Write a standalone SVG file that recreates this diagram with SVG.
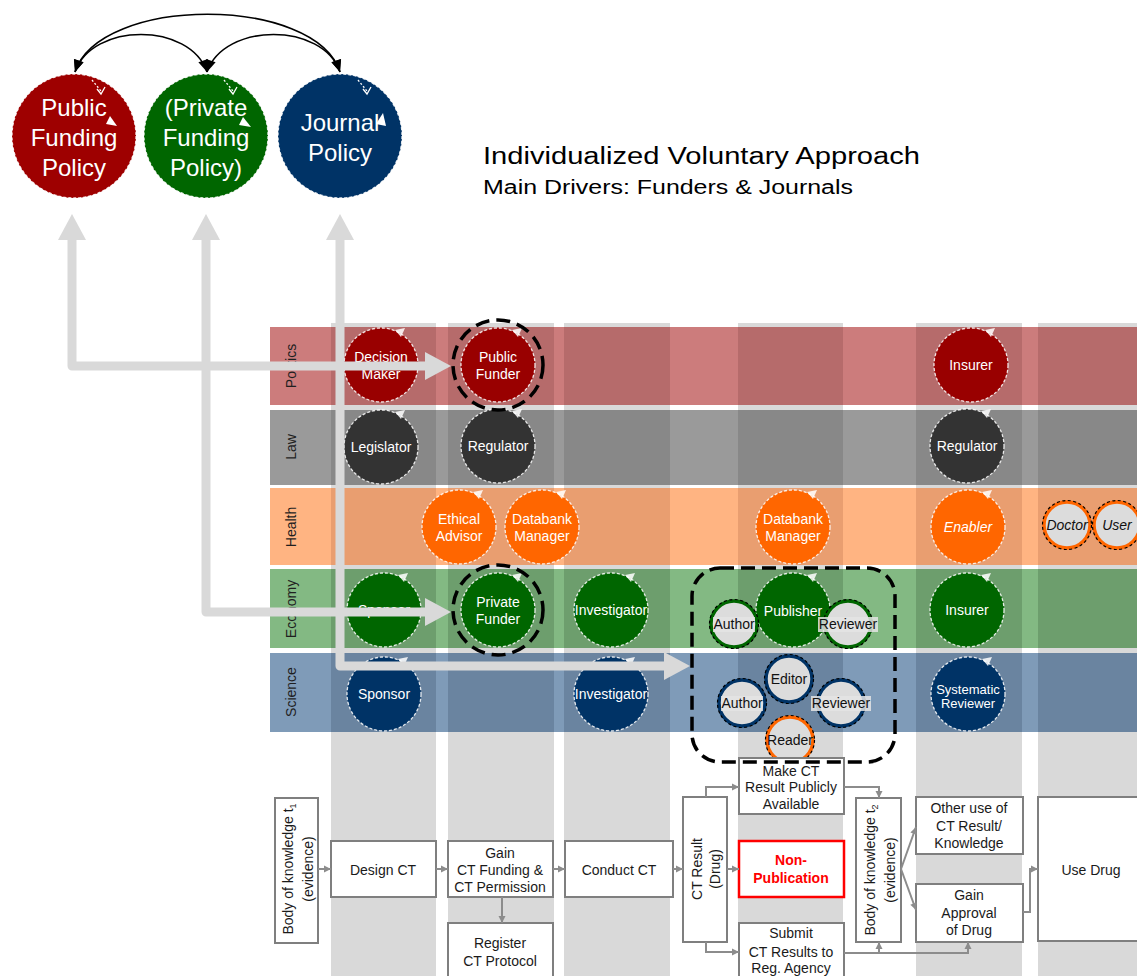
<svg xmlns="http://www.w3.org/2000/svg" width="1137" height="976" viewBox="0 0 1137 976">
<style>
text{font-family:"Liberation Sans",Arial,sans-serif}
.rl{font-size:14px;fill:#1f1f1f;text-anchor:middle}
.a{font-size:14px;fill:#fff;text-anchor:middle}
.s{font-size:14px;fill:#111;text-anchor:middle}
.o{stroke:#fff;stroke-width:1.3;stroke-dasharray:3 2;fill:none;opacity:.85}
.lp{fill:#fff;opacity:.85}
.ring{fill:#dcdcdc;stroke-width:3.5}
.rd{fill:none;stroke:#000;stroke-width:1.2;stroke-dasharray:3 2.5}
.tb{fill:#e4e4e4;opacity:.85}
.bx{fill:#fff;stroke:#7f7f7f;stroke-width:2}
.bt{font-size:14px;fill:#1a1a1a;text-anchor:middle}
.c{fill:none;stroke:#8c8c8c;stroke-width:2;marker-end:url(#sa)}
.g{fill:none;stroke:#d9d9d9;stroke-width:9;stroke-linejoin:round;marker-start:url(#gh);marker-end:url(#gh)}
.k{fill:none;stroke:#000;stroke-width:1.6;marker-start:url(#kh);marker-end:url(#kh)}
.hd{fill:none;stroke:#000;stroke-width:3.5;stroke-dasharray:14 7}
.big{font-size:24px;fill:#fff;text-anchor:middle}
.col{fill:#d9d9d9}
</style>
<defs>
<marker id="gh" markerUnits="userSpaceOnUse" markerWidth="28" markerHeight="28" refX="0" refY="14" orient="auto-start-reverse" overflow="visible"><path d="M0,0 L26,14 L0,28 Z" fill="#d9d9d9"/></marker>
<marker id="kh" markerUnits="userSpaceOnUse" markerWidth="12" markerHeight="10" refX="12" refY="5" orient="auto-start-reverse" overflow="visible"><path d="M0,0 L12,5 L0,10 Z" fill="#000"/></marker>
<marker id="sa" markerUnits="userSpaceOnUse" markerWidth="7" markerHeight="7" refX="7" refY="3.5" orient="auto" overflow="visible"><path d="M0,0 L7,3.5 L0,7 Z" fill="#8c8c8c"/></marker>
<clipPath id="cols">
<rect x="331" y="300" width="105" height="700"/>
<rect x="448" y="300" width="106" height="700"/>
<rect x="564" y="300" width="106" height="700"/>
<rect x="738" y="300" width="105" height="700"/>
<rect x="916" y="300" width="106" height="700"/>
<rect x="1038" y="300" width="99" height="700"/>
</clipPath>
</defs>

<g id="columns">
<rect class="col" x="331" y="323" width="105" height="653"/>
<rect class="col" x="448" y="323" width="106" height="653"/>
<rect class="col" x="564" y="323" width="106" height="653"/>
<rect class="col" x="738" y="323" width="105" height="653"/>
<rect class="col" x="916" y="323" width="106" height="653"/>
<rect class="col" x="1038" y="323" width="99" height="653"/>
</g>

<g id="rows">
<rect x="270" y="327" width="867" height="78" fill="#cc7c7c"/>
<rect x="270" y="410" width="867" height="75" fill="#9a9a9a"/>
<rect x="270" y="488" width="867" height="77" fill="#ffb482"/>
<rect x="270" y="569" width="867" height="79" fill="#83b983"/>
<rect x="270" y="653" width="867" height="79" fill="#7f9bb8"/>
<g clip-path="url(#cols)">
<rect x="270" y="327" width="867" height="78" fill="#b66b6b"/>
<rect x="270" y="410" width="867" height="75" fill="#888888"/>
<rect x="270" y="488" width="867" height="77" fill="#e99e70"/>
<rect x="270" y="569" width="867" height="79" fill="#6d9e6d"/>
<rect x="270" y="653" width="867" height="79" fill="#6a84a0"/>
</g>
<text class="rl" transform="translate(296,366) rotate(-90)">Politics</text>
<text class="rl" transform="translate(296,447) rotate(-90)">Law</text>
<text class="rl" transform="translate(296,527) rotate(-90)">Health</text>
<text class="rl" transform="translate(296,609) rotate(-90)">Economy</text>
<text class="rl" transform="translate(296,692) rotate(-90)">Science</text>
</g>

<g id="title">
<text x="483" y="164" font-size="23" fill="#000" textLength="437" lengthAdjust="spacingAndGlyphs">Individualized Voluntary Approach</text>
<text x="483" y="194" font-size="20" fill="#000" textLength="370" lengthAdjust="spacingAndGlyphs">Main Drivers: Funders &amp; Journals</text>
</g>

<!-- Politics -->
<g id="decision-maker"><circle cx="381" cy="365" r="37" fill="#990000"/><circle cx="381" cy="365" r="37" class="o"/><path class="lp" d="M395,330 L405,328 L401,337 Z"/><text class="a" x="381" y="362">Decision</text><text class="a" x="381" y="379">Maker</text></g>
<g id="public-funder"><circle cx="498" cy="365" r="37" fill="#990000"/><circle cx="498" cy="365" r="37" class="o"/><path class="lp" d="M512,330 L522,328 L518,337 Z"/><text class="a" x="498" y="362">Public</text><text class="a" x="498" y="379">Funder</text></g>
<g id="insurer-politics"><circle cx="971" cy="365" r="37" fill="#990000"/><circle cx="971" cy="365" r="37" class="o"/><path class="lp" d="M985,330 L995,328 L991,337 Z"/><text class="a" x="971" y="370">Insurer</text></g>
<!-- Law -->
<g id="legislator"><circle cx="381" cy="447" r="37" fill="#333333"/><circle cx="381" cy="447" r="37" class="o"/><path class="lp" d="M395,412 L405,410 L401,419 Z"/><text class="a" x="381" y="452">Legislator</text></g>
<g id="regulator-1"><circle cx="498" cy="446" r="37" fill="#333333"/><circle cx="498" cy="446" r="37" class="o"/><path class="lp" d="M512,411 L522,409 L518,418 Z"/><text class="a" x="498" y="451">Regulator</text></g>
<g id="regulator-2"><circle cx="967" cy="446" r="37" fill="#333333"/><circle cx="967" cy="446" r="37" class="o"/><path class="lp" d="M981,411 L991,409 L987,418 Z"/><text class="a" x="967" y="451">Regulator</text></g>
<!-- Health -->
<g id="ethical-advisor"><circle cx="459" cy="527" r="37" fill="#ff6600"/><circle cx="459" cy="527" r="37" class="o"/><path class="lp" d="M473,492 L483,490 L479,499 Z"/><text class="a" x="459" y="524">Ethical</text><text class="a" x="459" y="541">Advisor</text></g>
<g id="databank-manager-1"><circle cx="542" cy="527" r="37" fill="#ff6600"/><circle cx="542" cy="527" r="37" class="o"/><path class="lp" d="M556,492 L566,490 L562,499 Z"/><text class="a" x="542" y="524">Databank</text><text class="a" x="542" y="541">Manager</text></g>
<g id="databank-manager-2"><circle cx="793" cy="527" r="37" fill="#ff6600"/><circle cx="793" cy="527" r="37" class="o"/><path class="lp" d="M807,492 L817,490 L813,499 Z"/><text class="a" x="793" y="524">Databank</text><text class="a" x="793" y="541">Manager</text></g>
<g id="enabler"><circle cx="968" cy="527" r="37" fill="#ff6600"/><circle cx="968" cy="527" r="37" class="o"/><path class="lp" d="M982,492 L992,490 L988,499 Z"/><text class="a" x="968" y="532" font-style="italic">Enabler</text></g>
<g id="doctor"><circle cx="1067" cy="525" r="23" class="ring" stroke="#ff6600"/><circle cx="1067" cy="525" r="24.5" class="rd"/><text class="s" x="1067" y="530" font-style="italic">Doctor</text></g>
<g id="user"><circle cx="1117" cy="525" r="23" class="ring" stroke="#ff6600"/><circle cx="1117" cy="525" r="24.5" class="rd"/><text class="s" x="1117" y="530" font-style="italic">User</text></g>
<!-- Economy -->
<g id="sponsor-economy"><circle cx="384" cy="610" r="37" fill="#006600"/><circle cx="384" cy="610" r="37" class="o"/><path class="lp" d="M398,575 L408,573 L404,582 Z"/><text class="a" x="384" y="615">Sponsor</text></g>
<g id="private-funder"><circle cx="498" cy="610" r="37" fill="#006600"/><circle cx="498" cy="610" r="37" class="o"/><path class="lp" d="M512,575 L522,573 L518,582 Z"/><text class="a" x="498" y="607">Private</text><text class="a" x="498" y="624">Funder</text></g>
<g id="investigator-economy"><circle cx="611" cy="610" r="37" fill="#006600"/><circle cx="611" cy="610" r="37" class="o"/><path class="lp" d="M625,575 L635,573 L631,582 Z"/><text class="a" x="611" y="615">Investigator</text></g>
<g id="publisher"><circle cx="793" cy="610" r="37" fill="#006600"/><circle cx="793" cy="610" r="37" class="o"/><path class="lp" d="M807,575 L817,573 L813,582 Z"/><text class="a" x="793" y="616">Publisher</text></g>
<g id="author-economy"><circle cx="734" cy="624" r="23" class="ring" stroke="#006600"/><circle cx="734" cy="624" r="24.5" class="rd"/><rect class="tb" x="713" y="617" width="42" height="15"/><text class="s" x="734" y="629">Author</text></g>
<g id="reviewer-economy"><circle cx="848" cy="624" r="23" class="ring" stroke="#006600"/><circle cx="848" cy="624" r="24.5" class="rd"/><rect class="tb" x="818" y="617" width="60" height="15"/><text class="s" x="848" y="629">Reviewer</text></g>
<g id="insurer-economy"><circle cx="967" cy="610" r="37" fill="#006600"/><circle cx="967" cy="610" r="37" class="o"/><path class="lp" d="M981,575 L991,573 L987,582 Z"/><text class="a" x="967" y="615">Insurer</text></g>
<!-- Science -->
<g id="sponsor-science"><circle cx="384" cy="694" r="37" fill="#003366"/><circle cx="384" cy="694" r="37" class="o"/><path class="lp" d="M398,659 L408,657 L404,666 Z"/><text class="a" x="384" y="699">Sponsor</text></g>
<g id="investigator-science"><circle cx="611" cy="694" r="37" fill="#003366"/><circle cx="611" cy="694" r="37" class="o"/><path class="lp" d="M625,659 L635,657 L631,666 Z"/><text class="a" x="611" y="699">Investigator</text></g>
<g id="editor"><circle cx="789" cy="679" r="23" class="ring" stroke="#003366"/><circle cx="789" cy="679" r="24.5" class="rd"/><text class="s" x="789" y="684">Editor</text></g>
<g id="author-science"><circle cx="742" cy="703" r="23" class="ring" stroke="#003366"/><circle cx="742" cy="703" r="24.5" class="rd"/><rect class="tb" x="721" y="696" width="42" height="15"/><text class="s" x="742" y="708">Author</text></g>
<g id="reviewer-science"><circle cx="841" cy="703" r="23" class="ring" stroke="#003366"/><circle cx="841" cy="703" r="24.5" class="rd"/><rect class="tb" x="811" y="696" width="60" height="15"/><text class="s" x="841" y="708">Reviewer</text></g>
<g id="reader"><circle cx="790" cy="740" r="23" class="ring" stroke="#ff6600"/><circle cx="790" cy="740" r="24.5" class="rd"/><text class="s" x="790" y="745">Reader</text></g>
<g id="systematic-reviewer"><circle cx="968" cy="694" r="37" fill="#003366"/><circle cx="968" cy="694" r="37" class="o"/><path class="lp" d="M982,659 L992,657 L988,666 Z"/><text class="a" x="968" y="694" font-size="13" style="font-size:13px">Systematic</text><text class="a" x="968" y="708" style="font-size:13px">Reviewer</text></g>

<!-- process boxes -->
<g id="body-knowledge-1"><rect class="bx" x="275" y="798" width="43" height="145"/><text class="bt" transform="translate(293,869) rotate(-90)">Body of knowledge t<tspan font-size="9" dy="3">1</tspan></text><text class="bt" transform="translate(313,869) rotate(-90)">(evidence)</text></g>
<g id="design-ct"><rect class="bx" x="331" y="841" width="105" height="56"/><text class="bt" x="383" y="875">Design CT</text></g>
<g id="gain-funding"><rect class="bx" x="448" y="841" width="105" height="56"/><text class="bt" x="500" y="858">Gain</text><text class="bt" x="500" y="875">CT Funding &amp;</text><text class="bt" x="500" y="892">CT Permission</text></g>
<g id="register-protocol"><rect class="bx" x="448" y="923" width="105" height="60"/><text class="bt" x="500" y="948">Register</text><text class="bt" x="500" y="966">CT Protocol</text></g>
<g id="conduct-ct"><rect class="bx" x="565" y="841" width="108" height="56"/><text class="bt" x="619" y="875">Conduct CT</text></g>
<g id="ct-result"><rect class="bx" x="683" y="797" width="44" height="145"/><text class="bt" transform="translate(702,869) rotate(-90)">CT Result</text><text class="bt" transform="translate(720,869) rotate(-90)">(Drug)</text></g>
<g id="make-public"><rect class="bx" x="739" y="758" width="105" height="56"/><text class="bt" x="791" y="776">Make CT</text><text class="bt" x="791" y="792">Result Publicly</text><text class="bt" x="791" y="809">Available</text></g>
<g id="non-publication"><rect x="739" y="841" width="105" height="56" fill="#fff" stroke="#ff0000" stroke-width="2.5"/><text class="bt" x="791" y="865" font-weight="bold" style="fill:#ff0000">Non-</text><text class="bt" x="791" y="883" font-weight="bold" style="fill:#ff0000">Publication</text></g>
<g id="submit-results"><rect class="bx" x="739" y="923" width="105" height="60"/><text class="bt" x="791" y="938">Submit</text><text class="bt" x="791" y="957">CT Results to</text><text class="bt" x="791" y="973">Reg. Agency</text></g>
<g id="body-knowledge-2"><rect class="bx" x="856" y="798" width="45" height="144"/><text class="bt" transform="translate(875,870) rotate(-90)">Body of knowledge t<tspan font-size="9" dy="3">2</tspan></text><text class="bt" transform="translate(895,870) rotate(-90)">(evidence)</text></g>
<g id="other-use"><rect class="bx" x="916" y="797" width="107" height="57"/><text class="bt" x="969" y="813">Other use of</text><text class="bt" x="969" y="831">CT Result/</text><text class="bt" x="969" y="848">Knowledge</text></g>
<g id="gain-approval"><rect class="bx" x="916" y="884" width="107" height="58"/><text class="bt" x="969" y="900">Gain</text><text class="bt" x="969" y="918">Approval</text><text class="bt" x="969" y="935">of Drug</text></g>
<g id="use-drug"><rect class="bx" x="1038" y="797" width="110" height="144"/><text class="bt" x="1091" y="875">Use Drug</text></g>

<g id="connectors">
<path class="c" d="M318,869 L331,869"/>
<path class="c" d="M436,869 L448,869"/>
<path class="c" d="M553,869 L565,869"/>
<path class="c" d="M673,869 L683,869"/>
<path class="c" d="M502,897 L502,923"/>
<path class="c" d="M706,797 L706,787 L739,787"/>
<path class="c" d="M727,869 L739,869"/>
<path class="c" d="M706,942 L706,952 L739,952"/>
<path class="c" d="M844,787 L879,787 L879,798"/>
<path class="c" d="M844,953 L968,953 L968,942"/>
<path class="c" d="M879,953 L879,942"/>
<path class="c" d="M901,869 L916,827"/>
<path class="c" d="M901,869 L916,910"/>
<path class="c" d="M1023,912 L1030,912 L1030,869 L1038,869"/>
<path class="g" d="M72,240 L72,366 L425,366"/>
<path class="g" d="M206,240 L206,612 L425,612"/>
<path class="g" d="M340,240 L340,666 L664,666"/>
<path class="k" d="M75,72 C100,-5 315,-5 340,72"/>
<path class="k" d="M75,72 C92,22 190,22 207,72"/>
<path class="k" d="M207,72 C224,22 323,22 340,72"/>
</g>

<g id="highlights">
<circle cx="498" cy="365" r="45" class="hd"/>
<circle cx="498" cy="610" r="45" class="hd"/>
<rect x="692" y="568" width="203" height="194" rx="28" class="hd" stroke-dasharray="16 9"/>
</g>

<g id="public-funding-policy"><circle cx="74" cy="136" r="62" fill="#9e0000"/><circle cx="74" cy="136" r="62" class="o"/><path d="M92,80 L101,91" stroke="#fff" stroke-width="1.3" stroke-dasharray="2 2"/><path d="M97,89 L101,94 L105,87" stroke="#fff" stroke-width="1.3" fill="none"/><path d="M110,116 L117,126 L106,124 Z" fill="#fff"/><text class="big" x="74" y="116">Public</text><text class="big" x="74" y="146">Funding</text><text class="big" x="74" y="176">Policy</text></g>
<g id="private-funding-policy"><circle cx="206" cy="136" r="62" fill="#006600"/><circle cx="206" cy="136" r="62" class="o"/><path d="M224,80 L233,91" stroke="#fff" stroke-width="1.3" stroke-dasharray="2 2"/><path d="M229,89 L233,94 L237,87" stroke="#fff" stroke-width="1.3" fill="none"/><path d="M243,117 L251,127 L239,125 Z" fill="#fff"/><text class="big" x="206" y="116">(Private</text><text class="big" x="206" y="146">Funding</text><text class="big" x="206" y="176">Policy)</text></g>
<g id="journal-policy"><circle cx="340" cy="136" r="62" fill="#003366"/><circle cx="340" cy="136" r="62" class="o"/><path d="M358,80 L367,91" stroke="#fff" stroke-width="1.3" stroke-dasharray="2 2"/><path d="M363,89 L367,94 L371,87" stroke="#fff" stroke-width="1.3" fill="none"/><path d="M383,113 L386,126 L376,124 Z" fill="#fff"/><text class="big" x="340" y="131">Journal</text><text class="big" x="340" y="161">Policy</text></g>
</svg>
